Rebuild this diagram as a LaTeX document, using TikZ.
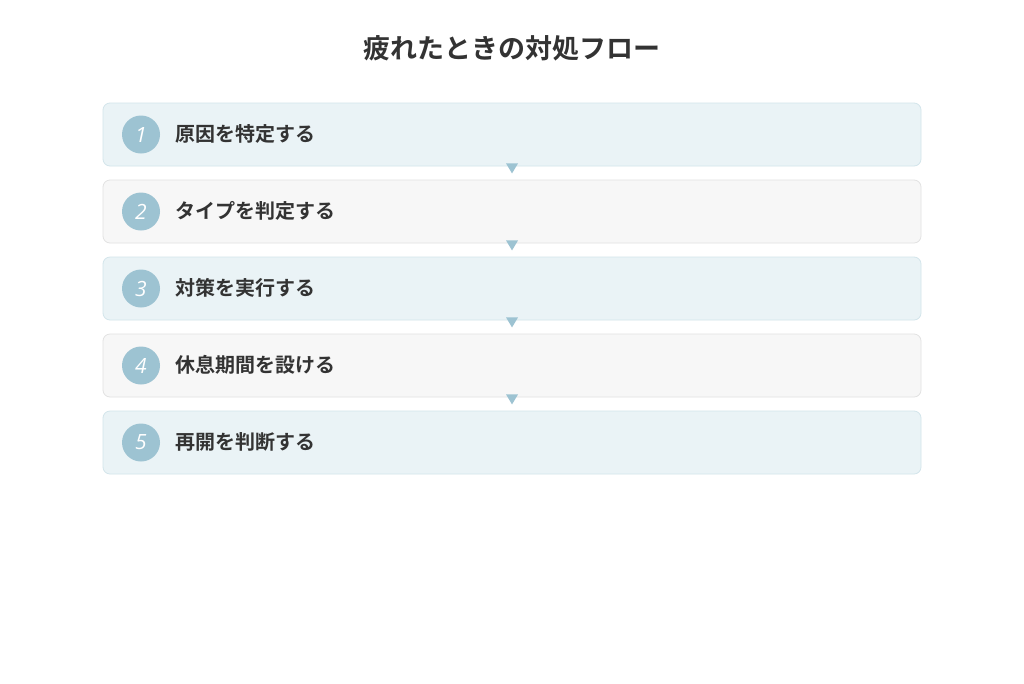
\documentclass[tikz,border=0pt]{standalone}
\usepackage{fontspec}
\newfontfamily\jp{Noto Sans CJK JP}[BoldFont={* Bold}]
\newfontfamily\numfont{Open Sans}
\usetikzlibrary{calc}
\definecolor{txt}{HTML}{333333}
\definecolor{accent}{HTML}{9DC3D2}
\definecolor{fillA}{HTML}{EAF3F6}
\definecolor{lineA}{HTML}{D3E5EB}
\definecolor{fillB}{HTML}{F7F7F7}
\definecolor{lineB}{HTML}{E2E2E2}
\tikzset{
  stepboxA/.style={draw=lineA, fill=fillA, line width=0.8pt, rounded corners=7pt, minimum width=818pt, minimum height=63pt, inner sep=0pt},
  stepboxB/.style={draw=lineB, fill=fillB, line width=0.8pt, rounded corners=7pt, minimum width=818pt, minimum height=63pt, inner sep=0pt},
  numcirc/.style={circle, fill=accent, minimum size=38pt, inner sep=0pt, text=white, font=\numfont\itshape\fontsize{21}{21}\selectfont},
  steplabel/.style={anchor=west, text=txt, font=\jp\bfseries\fontsize{20}{22}\selectfont, inner sep=0pt},
  arrowtri/.style={fill=accent, draw=none}
}
\begin{document}
\begin{tikzpicture}[x=1pt,y=-1pt]
\useasboundingbox (0,0) rectangle (1024,683);
\fill[white] (0,0) rectangle (1024,683);
\node[text=txt, font=\jp\bfseries\fontsize{27}{30}\selectfont] (title) at (512,48) {疲れたときの対処フロー};
\foreach \i/\sty/\lab in {1/stepboxA/原因を特定する,2/stepboxB/タイプを判定する,3/stepboxA/対策を実行する,4/stepboxB/休息期間を設ける,5/stepboxA/再開を判断する}{
  \node[\sty] (b\i) at (512,{134.5+77*(\i-1)}) {};
  \node[numcirc] (c\i) at (141,{134.5+77*(\i-1)}) {\i};
  \node[steplabel] (t\i) at (175,{133.5+77*(\i-1)}) {\lab};
}
\foreach \i in {1,2,3,4}{
  \fill[arrowtri] ($(b\i.south)+(-6,-3)$) -- ($(b\i.south)+(6,-3)$) -- ($(b\i.south)+(0,7)$) -- cycle;
}
\end{tikzpicture}
\end{document}
